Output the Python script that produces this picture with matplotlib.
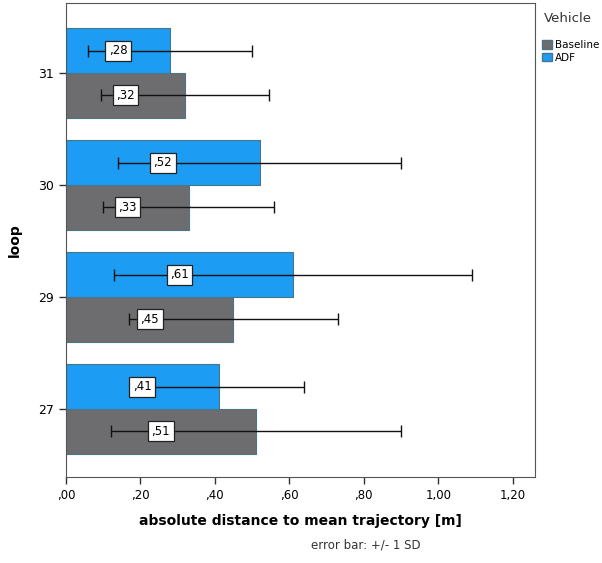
import numpy as np
import matplotlib.pyplot as plt
from matplotlib.patches import Patch

loops = ["27", "29", "30", "31"]
baseline_mean = [0.51, 0.45, 0.33, 0.32]
baseline_sd = [0.39, 0.28, 0.23, 0.225]
adf_mean = [0.41, 0.61, 0.52, 0.28]
adf_sd = [0.23, 0.48, 0.38, 0.22]
xticks = [0.0, 0.2, 0.4, 0.6, 0.8, 1.0, 1.2]
xticklabels = [",00", ",20", ",40", ",60", ",80", "1,00", "1,20"]

col_base = "#6d6d6f"
col_adf = "#1c9cf2"
edge = "#4a7488"


def label(ax, x, y, v):
    ax.text(x / 2, y, ("%.2f" % v).replace("0.", ","), ha="center", va="center",
            fontsize=8.5, bbox=dict(boxstyle="square,pad=0.3", fc="white", ec="#222222", lw=0.9))


def main():
    fig = plt.figure(figsize=(6.02, 5.63), dpi=100)
    ax = fig.add_axes([0.1096, 0.1527, 0.7791, 0.842])
    y = np.arange(len(loops))
    h = 0.4

    ax.barh(y - h / 2, baseline_mean, height=h, color=col_base, edgecolor=edge, lw=0.8, zorder=2)
    ax.barh(y + h / 2, adf_mean, height=h, color=col_adf, edgecolor=edge, lw=0.8, zorder=2)
    ax.errorbar(baseline_mean, y - h / 2, xerr=baseline_sd, fmt="none", ecolor="#111111",
                elinewidth=1, capsize=4.5, capthick=1, zorder=3)
    ax.errorbar(adf_mean, y + h / 2, xerr=adf_sd, fmt="none", ecolor="#111111",
                elinewidth=1, capsize=4.5, capthick=1, zorder=3)
    for i in range(len(loops)):
        label(ax, baseline_mean[i], y[i] - h / 2, baseline_mean[i])
        label(ax, adf_mean[i], y[i] + h / 2, adf_mean[i])

    ax.set_xlim(0, 1.26)
    ax.set_ylim(-0.607, 3.625)
    ax.set_xticks(xticks)
    ax.set_xticklabels(xticklabels, fontsize=8.5)
    ax.set_yticks(y)
    ax.set_yticklabels(loops, fontsize=9)
    ax.tick_params(length=5, width=1, color="#333333")
    for s in ax.spines.values():
        s.set_color("#555555")
    ax.set_xlabel("absolute distance to mean trajectory [m]", fontsize=10, fontweight="bold", labelpad=9)
    ax.set_ylabel("loop", fontsize=10, fontweight="bold", labelpad=12)

    handles = [Patch(fc=col_base, ec=edge), Patch(fc=col_adf, ec=edge)]
    fig.legend(handles, ["Baseline", "ADF"], loc="upper left",
               bbox_to_anchor=(0.889, 0.942), frameon=False, fontsize=7.5,
               handlelength=0.9, handleheight=0.9, handletextpad=0.3,
               labelspacing=0.25, borderpad=0.2)
    fig.text(0.943, 0.968, "Vehicle", ha="center", va="center", fontsize=9.5, color="#333333")

    fig.text(0.607, 0.026, "error bar: +/- 1 SD", ha="center", fontsize=8.5, color="#333333")
    fig.savefig("out.png", dpi=100)


if __name__ == "__main__":
    main()
